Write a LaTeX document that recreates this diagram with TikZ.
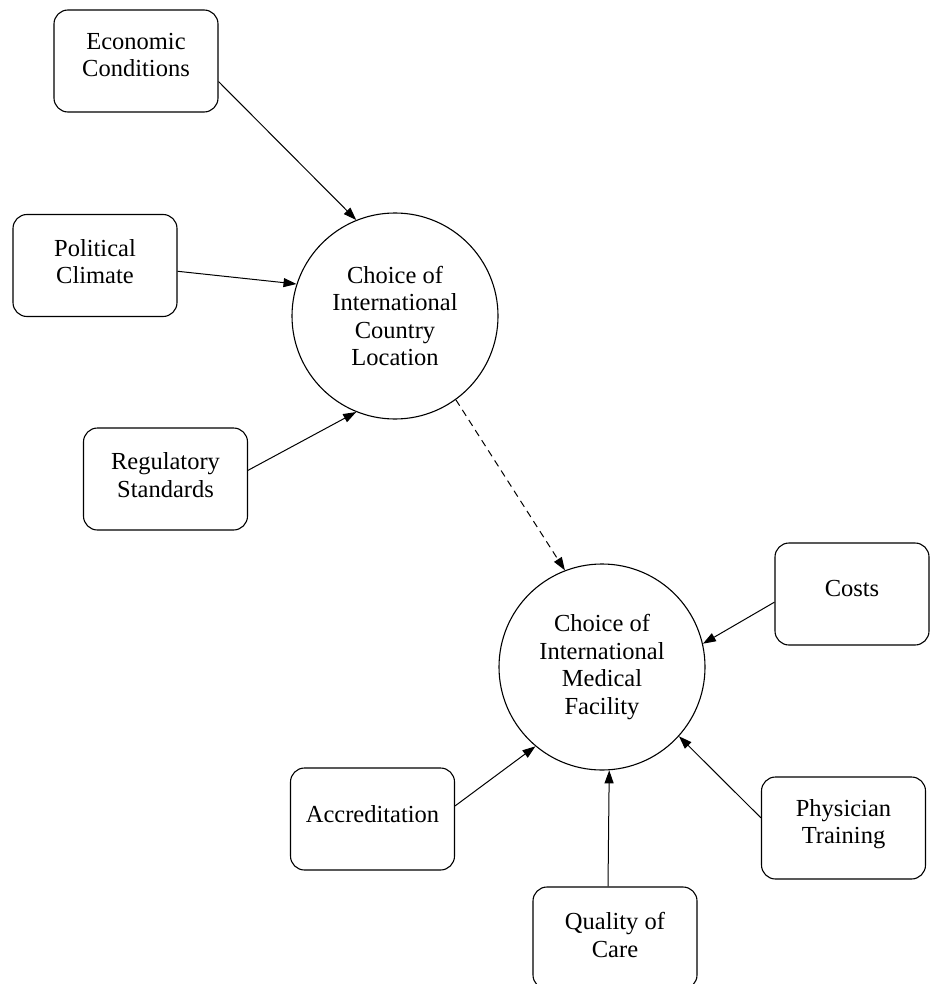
\documentclass[tikz,border=0pt]{standalone}
\usepackage{fontspec}
\setmainfont{Liberation Serif}
\usetikzlibrary{arrows.meta}
\begin{document}
\begin{tikzpicture}[x=1pt,y=-1pt,
  factor/.style={draw, rounded corners=14pt, minimum width=164pt, minimum height=102pt,
                 inner sep=0pt, line width=1.1pt},
  factortext/.style={align=center, inner sep=0pt, font=\fontsize{24.5}{27.5}\selectfont},
  choice/.style={draw, circle, minimum size=206pt, inner sep=0pt, line width=1.1pt,
                 align=center, font=\fontsize{24.5}{27.5}\selectfont},
  link/.style={line width=1pt, -{Triangle[length=13pt,width=9pt]}},
  maybe/.style={link, dash pattern=on 7pt off 5pt}
]
\useasboundingbox (0,0) rectangle (931,984);

% central constructs
\node[choice] (c1) at (395,316) {Choice of\\International\\Country\\Location};
\node[choice] (c2) at (602,667) {Choice of\\International\\Medical\\Facility};

% country-level factors
\node[factor] (econ) at (136,61) {};
\node[factortext] (econT) at ([yshift=6pt]econ.center) {Economic\\Conditions};
\node[factor] (pol) at (95,265.5) {};
\node[factortext] (polT) at ([yshift=4pt]pol.center) {Political\\Climate};
\node[factor] (reg) at (165.5,479) {};
\node[factortext] (regT) at ([yshift=4pt]reg.center) {Regulatory\\Standards};

% facility-level factors
\node[factor, minimum width=154pt] (costs) at (852,594) {};
\node[factortext] (costsT) at ([yshift=5pt]costs.center) {Costs};
\node[factor] (acc) at (372.5,819) {};
\node[factortext] (accT) at ([yshift=5pt]acc.center) {Accreditation};
\node[factor] (qual) at (615,938) {};
\node[factortext] (qualT) at ([yshift=3pt]qual.center) {Quality of\\Care};
\node[factor] (phys) at (843.5,828) {};
\node[factortext] (physT) at ([yshift=4pt]phys.center) {Physician\\Training};

% influences
\draw[link] (econ.-14.4) -- (c1.112);
\draw[link] (pol.-4.5) -- (c1.162);
\draw[link] (reg.6.2) -- (c1.248.4);
\draw[maybe] (c1.-54.5) -- (c2.111.8);
\draw[link] (costs.186.7) -- (c2.13.9);
\draw[link] (acc.9.1) -- (c2.230.1);
\draw[link] ([xshift=-7pt]qual.north) -- (c2.-86.7);
\draw[link] (phys.173.1) -- (c2.-42.1);
\end{tikzpicture}
\end{document}
